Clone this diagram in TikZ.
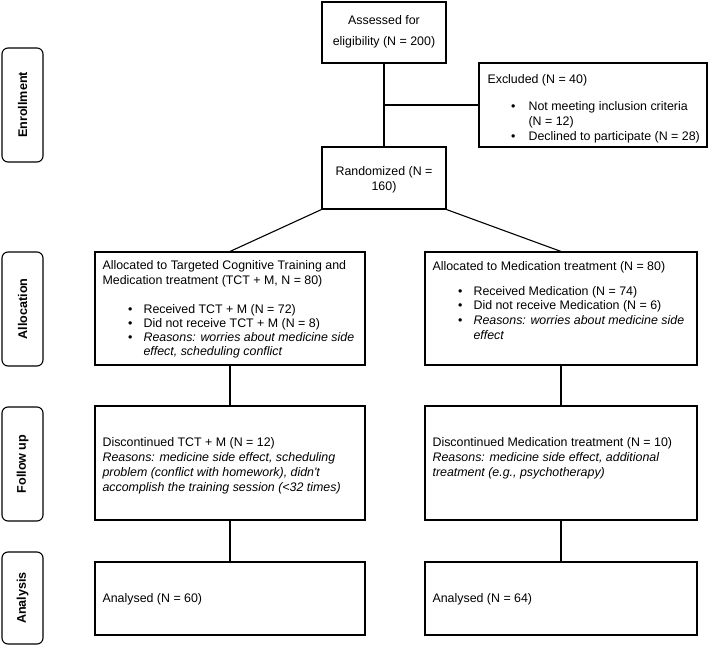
\documentclass[tikz,border=0pt]{standalone}
\usepackage{fontspec}
\setmainfont{Liberation Sans}
\begin{document}
\begin{tikzpicture}[x=1pt,y=-1pt,line width=1.1pt,
  box/.style={draw,rectangle,inner sep=0pt},
  txt/.style={inner sep=0pt,anchor=base west,font=\fontsize{12.4}{15}\selectfont},
  ctxt/.style={txt,anchor=base},
  itxt/.style={txt,font=\fontsize{12.4}{15}\selectfont\itshape},
  lab/.style={draw,rounded corners=6pt,rotate=90,inner sep=0pt,minimum height=41pt,
    font=\fontsize{12.6}{15}\selectfont\bfseries}]
\useasboundingbox (0,0) rectangle (709,647);

% phase labels
\node[lab,minimum width=114pt] (lenr) at (22.5,105) {Enrollment};
\node[lab,minimum width=114pt] (lall) at (22.5,309) {Allocation};
\node[lab,minimum width=114pt] (lfol) at (22.5,464) {Follow up};
\node[lab,minimum width=92pt] (lana) at (22.5,598) {Analysis};

% boxes
\node[box,minimum width=124pt,minimum height=61pt] (assess) at (384,32.5) {};
\node[box,minimum width=228pt,minimum height=84pt] (excl) at (593,105) {};
\node[box,minimum width=124pt,minimum height=62pt] (rand) at (384,178) {};
\node[box,minimum width=270pt,minimum height=113pt] (allocL) at (230,308.5) {};
\node[box,minimum width=272pt,minimum height=113pt] (allocR) at (561,308.5) {};
\node[box,minimum width=270pt,minimum height=114pt] (follL) at (230,463) {};
\node[box,minimum width=272pt,minimum height=114pt] (follR) at (561,463) {};
\node[box,minimum width=270pt,minimum height=73pt] (anaL) at (230,598.5) {};
\node[box,minimum width=272pt,minimum height=73pt] (anaR) at (561,598.5) {};

% connectors
\draw (assess) -- (rand);
\coordinate (jx) at (assess.south |- excl.west);
\draw (jx) -- (excl.west);
\draw (rand.south west) -- (allocL.north);
\draw (rand.south east) -- (allocR.north);
\draw (allocL) -- (follL);
\draw (follL) -- (anaL);
\draw (allocR) -- (follR);
\draw (follR) -- (anaR);

% texts: assessed / randomized
\node[ctxt] (t1) at (384,24.5) {Assessed for};
\node[ctxt] (t2) at (384,45.5) {eligibility (N = 200)};
\node[ctxt] (t3) at (384,175.5) {Randomized (N =};
\node[ctxt] (t4) at (384,190.5) {160)};

% excluded
\node[txt] (e1) at (487,83.5) {Excluded (N = 40)};
\node[txt] (eb1) at (510.5,110.5) {•};
\node[txt] (e2) at (528,110.5) {Not meeting inclusion criteria};
\node[txt] (e3) at (528,125.5) {(N = 12)};
\node[txt] (eb2) at (510.5,140.5) {•};
\node[txt] (e4) at (528,140.5) {Declined to participate (N = 28)};

% allocation left
\node[txt] (al1) at (102,269.5) {Allocated to Targeted Cognitive Training and};
\node[txt] (al2) at (102,284.5) {Medication treatment (TCT + M, N = 80)};
\node[txt] (alb1) at (127.5,313.5) {•};
\node[txt] (al3) at (143,313.5) {Received TCT + M (N = 72)};
\node[txt] (alb2) at (127.5,327.5) {•};
\node[txt] (al4) at (143,327.5) {Did not receive TCT + M (N = 8)};
\node[txt] (alb3) at (127.5,341.5) {•};
\node[itxt] (al5) at (143,341.5) {Reasons: worries about medicine side};
\node[itxt] (al6) at (143,355.5) {effect, scheduling conflict};

% allocation right
\node[txt] (ar1) at (432,270.5) {Allocated to Medication treatment (N = 80)};
\node[txt] (arb1) at (457.5,295.5) {•};
\node[txt] (ar2) at (473,295.5) {Received Medication (N = 74)};
\node[txt] (arb2) at (457.5,309.5) {•};
\node[txt] (ar3) at (473,309.5) {Did not receive Medication (N = 6)};
\node[txt] (arb3) at (457.5,324.5) {•};
\node[itxt] (ar4) at (473,324.5) {Reasons: worries about medicine side};
\node[itxt] (ar5) at (473,339.5) {effect};

% follow up
\node[txt] (fl1) at (102,446.5) {Discontinued TCT + M (N = 12)};
\node[itxt] (fl2) at (102,461.5) {Reasons: medicine side effect, scheduling};
\node[itxt] (fl3) at (102,476.5) {problem (conflict with homework), didn\textquotesingle t};
\node[itxt] (fl4) at (102,491.5) {accomplish the training session (<32 times)};
\node[txt] (fr1) at (432,446.5) {Discontinued Medication treatment (N = 10)};
\node[itxt] (fr2) at (432,461.5) {Reasons: medicine side effect, additional};
\node[itxt] (fr3) at (432,476.5) {treatment (e.g., psychotherapy)};

% analysis
\node[txt] (nl) at (102,602.5) {Analysed (N = 60)};
\node[txt] (nr) at (432,602.5) {Analysed (N = 64)};
\end{tikzpicture}
\end{document}
